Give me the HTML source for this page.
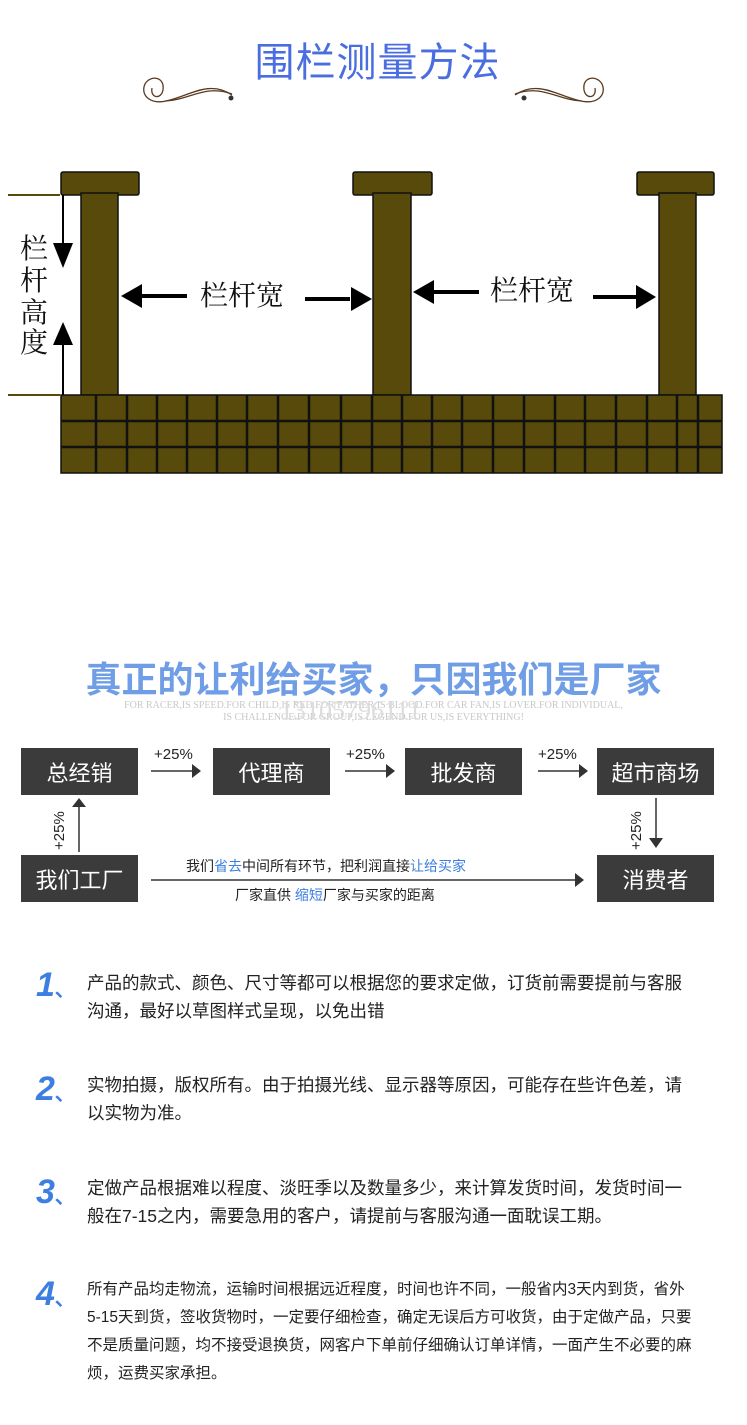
<!DOCTYPE html>
<html><head><meta charset="utf-8"><style>
body{margin:0;width:747px;height:1425px;background:#fff;position:relative;overflow:hidden;font-family:"Liberation Sans","Noto Sans CJK SC",sans-serif}
.a{position:absolute}
.box{position:absolute;background:#3b3b3b;color:#fff;font-size:22px;display:flex;align-items:center;justify-content:center;width:117px;height:47px}
.num{position:absolute;left:36px;font-size:34px;font-weight:bold;font-style:italic;color:#3c7fe0;font-family:"Liberation Sans",sans-serif}
.num span{font-size:20px;font-style:normal}
.t{position:absolute;left:87px;width:632px;font-size:17.5px;line-height:28px;color:#222}
</style></head><body>
<div class="a" style="left:0;width:747px;top:30px;text-align:center;font-size:40px;color:#4a6ee0;letter-spacing:1px;padding-left:4px">围栏测量方法</div>
<svg class="a" style="left:0;top:0" width="747" height="480">
<g fill="none" stroke="#5a3a20" stroke-width="1.3">
<path d="M232,95 C210,80 190,95 170,100 C150,106 140,95 145,84 C150,75 165,76 163,90 C161,100 150,98 152,88"/>
<path d="M232,94 C205,84 190,100 165,101"/>
<path d="M515,95 C537,80 557,95 577,100 C597,106 607,95 602,84 C597,75 582,76 584,90 C586,100 597,98 595,88"/>
<path d="M515,94 C542,84 557,100 582,101"/>
</g>
<circle cx="231" cy="98" r="2.5" fill="#333"/><circle cx="524" cy="98" r="2.5" fill="#333"/>
<g fill="#574a0a" stroke="#111" stroke-width="1.5">
<rect x="61" y="172" width="78" height="23" rx="2"/>
<rect x="353" y="172" width="79" height="23" rx="2"/>
<rect x="637" y="172" width="77" height="23" rx="2"/>
<rect x="81" y="193" width="37" height="202"/>
<rect x="373" y="193" width="38" height="202"/>
<rect x="659" y="193" width="37" height="202"/>
<rect x="61" y="395" width="661" height="78"/>
</g>
<g stroke="#111" stroke-width="2.5">
<line x1="61" y1="421" x2="722" y2="421"/><line x1="61" y1="447" x2="722" y2="447"/>
<path d="M96,395V473M127,395V473M157,395V473M187,395V473M217,395V473M247,395V473M278,395V473M309,395V473M341,395V473M372,395V473M402,395V473M432,395V473M462,395V473M493,395V473M524,395V473M555,395V473M585,395V473M616,395V473M647,395V473M677,395V473M698,395V473"/>
</g>
<g stroke="#574a0a" stroke-width="2"><line x1="8" y1="195" x2="60" y2="195"/><line x1="8" y1="395" x2="60" y2="395"/></g>
<g stroke="#000" stroke-width="2"><line x1="63" y1="195" x2="63" y2="250"/><line x1="63" y1="340" x2="63" y2="395"/></g>
<polygon points="53,243 73,243 63,268" fill="#000"/><polygon points="53,345 73,345 63,322" fill="#000"/>
<g stroke="#000" stroke-width="4">
<line x1="140" y1="296" x2="187" y2="296"/><line x1="305" y1="299" x2="350" y2="299"/>
<line x1="434" y1="292" x2="479" y2="292"/><line x1="593" y1="297" x2="636" y2="297"/>
</g>
<g fill="#000">
<polygon points="121,296 142,284 142,308"/><polygon points="372,299 351,287 351,311"/>
<polygon points="413,292 434,280 434,304"/><polygon points="656,297 636,285 636,309"/>
</g>
<g font-family="Liberation Serif,Noto Serif CJK SC,serif" font-size="28" fill="#111">
<text x="200" y="305">栏杆宽</text><text x="490" y="300">栏杆宽</text>
<text x="20" y="258">栏</text><text x="20" y="290">杆</text><text x="20" y="322">高</text><text x="20" y="352">度</text>
</g>
</svg>
<div class="a" style="left:0;width:747px;top:651px;text-align:center;font-size:36px;font-weight:bold;color:#6f9de6;padding-right:10px">真正的让利给买家，只因我们是厂家</div>
<div class="a" style="left:0;width:747px;top:700px;text-align:center;font-size:10px;line-height:12px;color:#c8c8c8;font-family:'Liberation Serif',serif">FOR RACER,IS SPEED.FOR CHILD,IS RED.FOR FATHER,IS BLOOD.FOR CAR FAN,IS LOVER.FOR INDIVIDUAL,<br>IS CHALLENGE.FOR GROUP,IS LEGEND.FOR US,IS EVERYTHING!</div>
<div class="a" style="left:280px;top:696px;font-size:26px;color:#ddd;font-family:'Liberation Serif',serif">13105796111</div>
<div class="box" style="left:21px;top:748px">总经销</div>
<div class="box" style="left:213px;top:748px">代理商</div>
<div class="box" style="left:405px;top:748px">批发商</div>
<div class="box" style="left:597px;top:748px">超市商场</div>
<div class="box" style="left:21px;top:855px">我们工厂</div>
<div class="box" style="left:597px;top:855px">消费者</div>
<svg class="a" style="left:0;top:740px" width="747" height="170">
<g stroke="#333" stroke-width="1.5" fill="none">
<line x1="151" y1="31" x2="194" y2="31"/><line x1="345" y1="31" x2="388" y2="31"/><line x1="538" y1="31" x2="581" y2="31"/>
<line x1="79" y1="112" x2="79" y2="65"/><line x1="656" y1="58" x2="656" y2="100"/>
<line x1="151" y1="140" x2="575" y2="140"/>
</g>
<g fill="#333">
<polygon points="201,31 192,24 192,38"/><polygon points="395,31 386,24 386,38"/><polygon points="588,31 579,24 579,38"/>
<polygon points="79,58 72,67 86,67"/><polygon points="656,108 649,98 663,98"/><polygon points="584,140 575,133 575,147"/>
</g>
<g font-size="15" fill="#222" font-family="Liberation Sans,sans-serif">
<text x="154" y="19">+25%</text><text x="346" y="19">+25%</text><text x="538" y="19">+25%</text>
<text transform="translate(64,110) rotate(-90)">+25%</text><text transform="translate(641,110) rotate(-90)">+25%</text>
</g>
<text x="186" y="131" font-size="14" fill="#222" font-family="Liberation Sans,Noto Sans CJK SC,sans-serif">我们<tspan fill="#3c7fe0">省去</tspan>中间所有环节，把利润直接<tspan fill="#3c7fe0">让给买家</tspan></text>
<text x="235" y="160" font-size="14" fill="#222" font-family="Liberation Sans,Noto Sans CJK SC,sans-serif">厂家直供 <tspan fill="#3c7fe0">缩短</tspan>厂家与买家的距离</text>
</svg>
<div class="num" style="top:966px">1<span>、</span></div>
<div class="t" style="top:969px">产品的款式、颜色、尺寸等都可以根据您的要求定做，订货前需要提前与客服<br>沟通，最好以草图样式呈现，以免出错</div>
<div class="num" style="top:1070px">2<span>、</span></div>
<div class="t" style="top:1071px">实物拍摄，版权所有。由于拍摄光线、显示器等原因，可能存在些许色差，请<br>以实物为准。</div>
<div class="num" style="top:1173px">3<span>、</span></div>
<div class="t" style="top:1174px">定做产品根据难以程度、淡旺季以及数量多少，来计算发货时间，发货时间一<br>般在7-15之内，需要急用的客户，请提前与客服沟通一面耽误工期。</div>
<div class="num" style="top:1275px">4<span>、</span></div>
<div class="t" style="top:1276px;font-size:15.5px;width:630px">所有产品均走物流，运输时间根据远近程度，时间也许不同，一般省内3天内到货，省外<br>5-15天到货，签收货物时，一定要仔细检查，确定无误后方可收货，由于定做产品，只要<br>不是质量问题，均不接受退换货，网客户下单前仔细确认订单详情，一面产生不必要的麻<br>烦，运费买家承担。</div>
</body></html>
